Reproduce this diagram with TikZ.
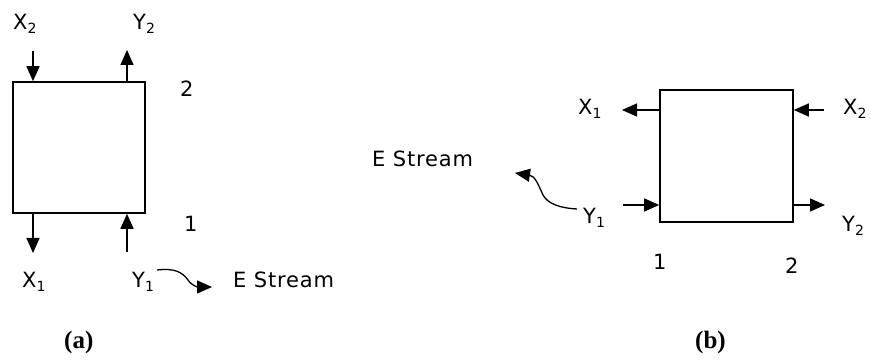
\documentclass[tikz,border=0pt]{standalone}
\usepackage{fontspec}
\setmainfont{DejaVu Sans}
\newfontfamily\capfont{Liberation Serif}
\usetikzlibrary{arrows.meta}
\newcommand{\sbs}[1]{\raisebox{-4pt}{\fontsize{14}{14}\selectfont #1}}
\tikzset{
  unit/.style={draw, line width=1.6pt, minimum width=#1, inner sep=0pt},
  flow/.style={line width=1.5pt, -{Triangle[length=15pt,width=13pt]}},
  wave/.style={line width=1.3pt, -{Triangle[length=15pt,width=13pt]}},
  lbl/.style={anchor=base west, inner sep=0pt, font=\fontsize{21}{23}\selectfont\addfontfeature{LetterSpace=4}},
  figcap/.style={anchor=base west, inner sep=0pt, font=\capfont\bfseries\fontsize{25}{27}\selectfont}
}
\begin{document}
\begin{tikzpicture}[x=1pt,y=-1pt]
\useasboundingbox (0,0) rectangle (871,363);
% ---------- (a)
\node[unit=132pt, minimum height=131pt] (boxa) at (79,147.5) {};
\coordinate (x2a) at (33,51);
\coordinate (y2a) at (127,50);
\coordinate (x1a) at (33,253);
\coordinate (y1a) at (127,252);
\draw[flow] (x2a) -- (x2a |- boxa.north);
\draw[flow] (y2a |- boxa.north) -- (y2a);
\draw[flow] (x1a |- boxa.south) -- (x1a);
\draw[flow] (y1a) -- (y1a |- boxa.south);
\node[lbl] (lx2a) at (13,30) {X\sbs{2}};
\node[lbl] (ly2a) at (133,30) {Y\sbs{2}};
\node[lbl] (n2a) at (180,97) {2};
\node[lbl] (n1a) at (184,232) {1};
\node[lbl] (lx1a) at (22,288) {X\sbs{1}};
\node[lbl] (ly1a) at (132,288) {Y\sbs{1}};
\node[lbl] (esa) at (233,288) {E Stream};
\coordinate (wa0) at (157,270);
\draw[wave] (wa0) .. controls (175,268) and (182,272) .. (188,280) .. controls (192,286) and (198,287) .. (212,287);
\node[figcap] (capa) at (64,349) {(a)};
% ---------- (b)
\node[unit=133pt, minimum height=132pt] (boxb) at (726.5,156) {};
\coordinate (x1b) at (622,110);
\coordinate (x2b) at (824,110);
\coordinate (y1b) at (623,205);
\coordinate (y2b) at (825,205);
\draw[flow] (x1b -| boxb.west) -- (x1b);
\draw[flow] (x2b) -- (x2b -| boxb.east);
\draw[flow] (y1b) -- (y1b -| boxb.west);
\draw[flow] (y2b -| boxb.east) -- (y2b);
\node[lbl] (lx1b) at (578,115) {X\sbs{1}};
\node[lbl] (lx2b) at (843,115) {X\sbs{2}};
\node[lbl] (ly1b) at (583,224) {Y\sbs{1}};
\node[lbl] (ly2b) at (842,232) {Y\sbs{2}};
\node[lbl] (n1b) at (653,270) {1};
\node[lbl] (n2b) at (785,274) {2};
\node[lbl] (esb) at (372,167) {E Stream};
\coordinate (wb0) at (577,209);
\draw[wave] (wb0) .. controls (560,208) and (548,204) .. (543,195) .. controls (538,184) and (535,176) .. (515,173);
\node[figcap] (capb) at (695,349) {(b)};
\end{tikzpicture}
\end{document}
